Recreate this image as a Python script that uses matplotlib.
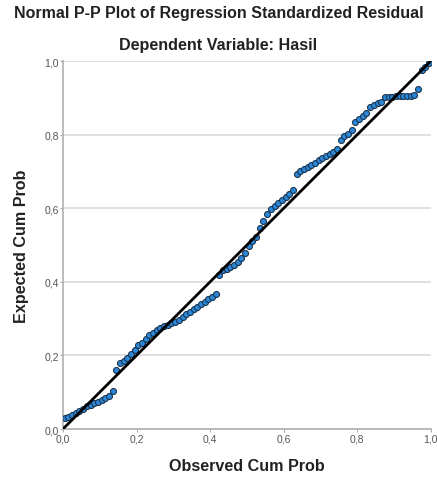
import matplotlib
matplotlib.use('Agg')
import matplotlib.pyplot as plt
from matplotlib.ticker import FixedLocator

plt.rcParams['font.family'] = ['Liberation Sans', 'DejaVu Sans']

# observed cumulative probability (x) and expected cumulative probability (y)
observed = [0.005, 0.015, 0.025, 0.035, 0.045, 0.055, 0.065, 0.075, 0.085, 0.095,
            0.105, 0.115, 0.125, 0.135, 0.145, 0.155, 0.165, 0.175, 0.185, 0.195,
            0.205, 0.215, 0.225, 0.235, 0.245, 0.255, 0.265, 0.275, 0.285, 0.295,
            0.305, 0.315, 0.325, 0.335, 0.345, 0.355, 0.365, 0.375, 0.385, 0.395,
            0.405, 0.415, 0.425, 0.435, 0.445, 0.455, 0.465, 0.475, 0.485, 0.495,
            0.505, 0.515, 0.525, 0.535, 0.545, 0.555, 0.565, 0.575, 0.585, 0.595,
            0.605, 0.615, 0.625, 0.635, 0.645, 0.655, 0.665, 0.675, 0.685, 0.695,
            0.705, 0.715, 0.725, 0.735, 0.745, 0.755, 0.765, 0.775, 0.785, 0.795,
            0.805, 0.815, 0.825, 0.835, 0.845, 0.855, 0.865, 0.875, 0.885, 0.895,
            0.905, 0.915, 0.925, 0.935, 0.945, 0.955, 0.965, 0.975, 0.985, 0.995]
expected = [0.030, 0.034, 0.038, 0.043, 0.048, 0.055, 0.062, 0.066, 0.070, 0.074,
            0.078, 0.083, 0.090, 0.102, 0.160, 0.180, 0.186, 0.192, 0.205, 0.215,
            0.228, 0.235, 0.245, 0.255, 0.262, 0.268, 0.275, 0.280, 0.284, 0.288,
            0.292, 0.296, 0.305, 0.312, 0.318, 0.325, 0.332, 0.340, 0.346, 0.352,
            0.360, 0.368, 0.418, 0.432, 0.436, 0.440, 0.445, 0.455, 0.465, 0.478,
            0.498, 0.510, 0.522, 0.545, 0.565, 0.585, 0.598, 0.606, 0.614, 0.622,
            0.630, 0.638, 0.650, 0.692, 0.700, 0.706, 0.712, 0.718, 0.724, 0.730,
            0.736, 0.742, 0.748, 0.754, 0.762, 0.785, 0.795, 0.803, 0.812, 0.835,
            0.843, 0.850, 0.858, 0.875, 0.880, 0.886, 0.890, 0.902, 0.903, 0.903,
            0.904, 0.904, 0.905, 0.905, 0.906, 0.907, 0.925, 0.975, 0.985, 0.995]

ref_line = [0.0, 1.0]
tick_values = [0.0, 0.2, 0.4, 0.6, 0.8, 1.0]
tick_labels = ['0,0', '0,2', '0,4', '0,6', '0,8', '1,0']

fig = plt.figure(figsize=(4.37, 4.81), dpi=100)
ax = fig.add_axes([0.144, 0.106, 0.842, 0.765])

ax.plot(observed, expected, 'o', markersize=4.3, markerfacecolor='#2b87d8',
        markeredgecolor='#1b3550', markeredgewidth=0.8, zorder=3)
ax.plot(ref_line, ref_line, color='black', linewidth=2.0, zorder=4)

ax.set_xlim(0, 1)
ax.set_ylim(0, 1)
ax.xaxis.set_major_locator(FixedLocator(tick_values))
ax.yaxis.set_major_locator(FixedLocator(tick_values))
ax.set_xticklabels(tick_labels)
ax.set_yticklabels(tick_labels)
ax.tick_params(axis='both', labelsize=7.5, labelcolor='#555555', color='#aaaaaa',
               length=2, pad=1)

ax.grid(axis='y', color='#dadada', linewidth=1.2)
ax.set_axisbelow(True)
for side in ['top', 'right']:
    ax.spines[side].set_visible(False)
for side in ['left', 'bottom']:
    ax.spines[side].set_color('#b0b0b0')
    ax.spines[side].set_linewidth(1.2)

ax.set_xlabel('Observed Cum Prob', fontsize=11.6, fontweight='bold', color='#222222', labelpad=11)
ax.set_ylabel('Expected Cum Prob', fontsize=11.6, fontweight='bold', color='#222222', labelpad=11)

fig.text(0.5, 0.971, 'Normal P-P Plot of Regression Standardized Residual',
         ha='center', va='center', fontsize=11.5, fontweight='bold', color='#222222')
fig.text(0.5, 0.906, 'Dependent Variable: Hasil',
         ha='center', va='center', fontsize=11.6, fontweight='bold', color='#222222')

fig.savefig('out.png', dpi=100)
plt.close(fig)
